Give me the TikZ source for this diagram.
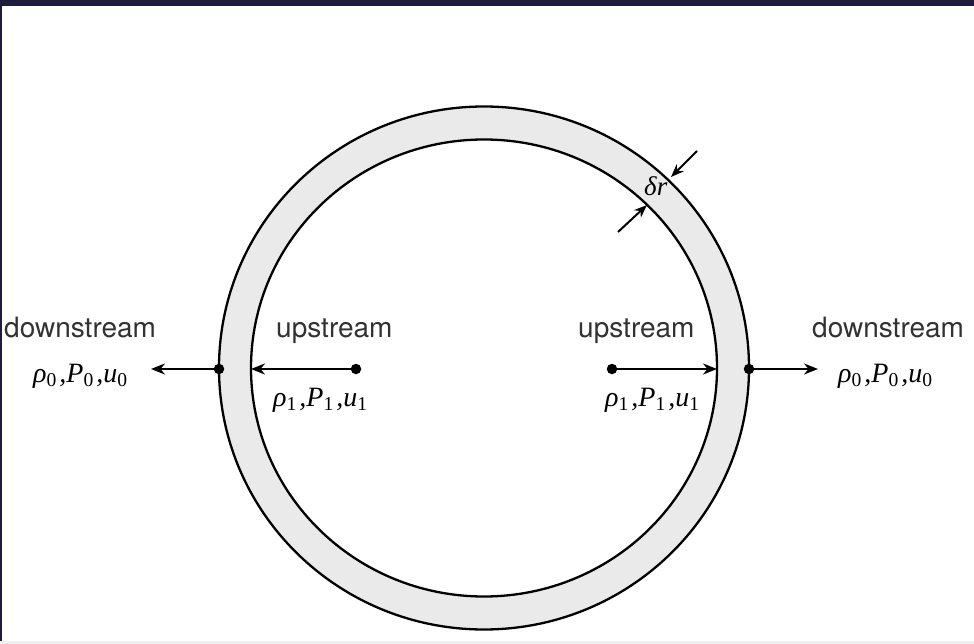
\documentclass[tikz,border=0pt]{standalone}
\usepackage{fontspec}
\setmainfont{TeX Gyre Heros}
\newfontfamily\tms{Liberation Serif}
\usetikzlibrary{arrows.meta}
\definecolor{band}{RGB}{29,28,62}
\definecolor{ringfill}{RGB}{234,234,234}
\definecolor{txt}{RGB}{50,50,50}
\newcommand\stvars[1]{{\tms\fontsize{28}{32}\selectfont\itshape ρ\/\textsubscript{\upshape #1}\kern2.5pt,P\textsubscript{\upshape #1}\kern2.5pt,u\textsubscript{\upshape #1}}}
\begin{document}
\begin{tikzpicture}[x=1pt,y=-1pt,
  lbl/.style={anchor=base west,inner sep=0pt,text=txt,font=\fontsize{28}{32}\selectfont},
  mlbl/.style={anchor=base west,inner sep=0pt,text=black},
  dotnode/.style={circle,fill=black,inner sep=0pt,minimum size=10.5pt},
  flow/.style={line width=2.2pt,-{Stealth[length=14pt,width=11pt]}},
  thin/.style={line width=2pt,-{Stealth[length=13pt,width=10pt]}}]
\useasboundingbox (0,0) rectangle (974,644);
\fill[white] (0,0) rectangle (974,644);
\fill[band] (0,0) rectangle (974,6);
\fill[band] (0,0) rectangle (2,644);
\fill[gray!12] (0,641) rectangle (974,644);
% ring
\path[fill=ringfill,even odd rule] (484,368) ellipse [x radius=265,y radius=261.5]
  (484,368) ellipse [x radius=233,y radius=228.5];
\draw[line width=2.3pt] (484,368) ellipse [x radius=265,y radius=261.5];
\draw[line width=2.3pt] (484,368) ellipse [x radius=233,y radius=228.5];
% dots
\node[dotnode] (lo) at (219,369) {};
\node[dotnode] (li) at (356,369) {};
\node[dotnode] (ri) at (612,369) {};
\node[dotnode] (ro) at (749,369) {};
\coordinate (lotip) at (151,369);
\coordinate (litip) at (251,369);
\coordinate (ritip) at (717,369);
\coordinate (rotip) at (818,369);
\draw[flow] (lo.center) -- (lotip);
\draw[flow] (li.center) -- (litip);
\draw[flow] (ri.center) -- (ritip);
\draw[flow] (ro.center) -- (rotip);
% labels
\node[lbl] (ld) at (4,337) {downstream};
\node[lbl] (lu) at (276,337) {upstream};
\node[lbl] (ru) at (578,337) {upstream};
\node[lbl] (rd) at (812,337) {downstream};
\node[mlbl] (lv0) at (33,382) {\stvars{0}};
\node[mlbl] (lv1) at (273,406) {\stvars{1}};
\node[mlbl] (rv1) at (605,406) {\stvars{1}};
\node[mlbl] (rv0) at (838,382) {\stvars{0}};
% delta r
\coordinate (da) at (697,151);
\coordinate (dat) at (671,177);
\coordinate (db) at (618,232);
\coordinate (dbt) at (647,205);
\draw[thin] (da) -- (dat);
\draw[thin] (db) -- (dbt);
\node[mlbl] (dr) at (644,196) {\tms\fontsize{27}{30}\selectfont\itshape δr};
\end{tikzpicture}
\end{document}
